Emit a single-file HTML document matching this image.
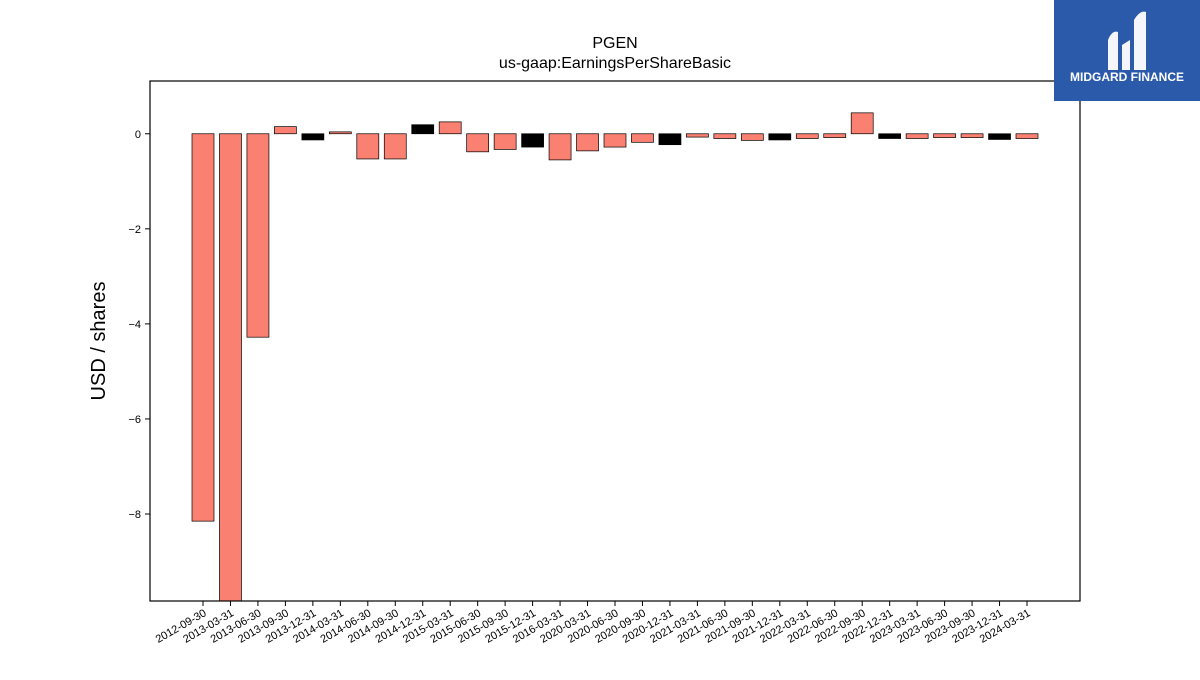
<!DOCTYPE html>
<html><head><meta charset="utf-8"><style>
body{margin:0;background:#fff;width:1200px;height:675px;overflow:hidden;font-family:"Liberation Sans","DejaVu Sans",sans-serif}
</style></head><body>
<svg width="1200" height="675" xmlns="http://www.w3.org/2000/svg">
<text x="615" y="48" text-anchor="middle" font-size="16">PGEN</text>
<text x="615" y="68" text-anchor="middle" font-size="16">us-gaap:EarningsPerShareBasic</text>
<text transform="translate(105,341) rotate(-90)" text-anchor="middle" font-size="20">USD / shares</text>
<g id="plot"></g>
<rect x="150" y="81" width="930" height="520" fill="none" stroke="#000" stroke-width="1.2"/>
<g>
<rect x="1054" y="0" width="146" height="101" fill="#2b5aab"/>
<path d="M1108 70 L1108 40 Q1112 30 1118 32 L1118 70 Z M1122 70 L1122 45 L1130 40 L1130 70 Z M1134 70 L1134 20 Q1140 10 1146 12 L1146 70 Z" fill="#fff" opacity="0.95"/>
<text x="1127" y="81" text-anchor="middle" font-size="12" font-weight="bold" fill="#fff">MIDGARD FINANCE</text>
</g>
</svg>
<script>
const categories=["2012-09-30","2013-03-31","2013-06-30","2013-09-30","2013-12-31","2014-03-31","2014-06-30","2014-09-30","2014-12-31","2015-03-31","2015-06-30","2015-09-30","2015-12-31","2016-03-31","2020-03-31","2020-06-30","2020-09-30","2020-12-31","2021-03-31","2021-06-30","2021-09-30","2021-12-31","2022-03-31","2022-06-30","2022-09-30","2022-12-31","2023-03-31","2023-06-30","2023-09-30","2023-12-31","2024-03-31"];
const values=[-8.15,-10.5,-4.28,0.15,-0.13,0.04,-0.53,-0.53,0.19,0.25,-0.38,-0.33,-0.28,-0.55,-0.36,-0.28,-0.18,-0.23,-0.07,-0.1,-0.14,-0.13,-0.1,-0.08,0.44,-0.1,-0.1,-0.08,-0.08,-0.12,-0.1];
const yTicks=[0,-2,-4,-6,-8];
const NS="http://www.w3.org/2000/svg";
const plotG=document.getElementById('plot');
const pTop=81,pBot=601,pLeft=150,pRight=1080;
const yMax=1.11,yMin=-9.83;
const yS=v=>pTop+(yMax-v)/(yMax-yMin)*(pBot-pTop);
const xS=i=>203+i*(1027-203)/(categories.length-1);
const bw=22;
function mk(t,a){const e=document.createElementNS(NS,t);for(const k in a)e.setAttribute(k,a[k]);plotG.appendChild(e);return e;}
values.forEach((v,i)=>{
 const y0=yS(0),y1=Math.max(pTop,Math.min(pBot,yS(v)));
 const isQ4=categories[i].endsWith("12-31");
 const r=mk('rect',{x:xS(i)-bw/2,y:Math.min(y0,y1),width:bw,height:Math.abs(y1-y0),fill:isQ4?'#000':'#fa8072',stroke:'#000','stroke-width':0.7});
 
 
 const tk=mk('line',{x1:xS(i),x2:xS(i),y1:pBot,y2:pBot+5,stroke:'#000'});
 
 
 const tx=xS(i)+4,ty=pBot+14;
 const t=mk('text',{x:tx,y:ty,'font-size':11,'text-anchor':'end',transform:'rotate(-30 '+tx+' '+ty+')'});
 t.textContent=categories[i];
 
 
});
yTicks.forEach(v=>{
 const tk=mk('line',{x1:pLeft-5,x2:pLeft,y1:yS(v),y2:yS(v),stroke:'#000'});
 
 
 const t=mk('text',{x:pLeft-9,y:yS(v)+4,'font-size':11,'text-anchor':'end'});
 t.textContent=v===0?'0':'\u2212'+Math.abs(v);
 
 
});
</script>
</body></html>
